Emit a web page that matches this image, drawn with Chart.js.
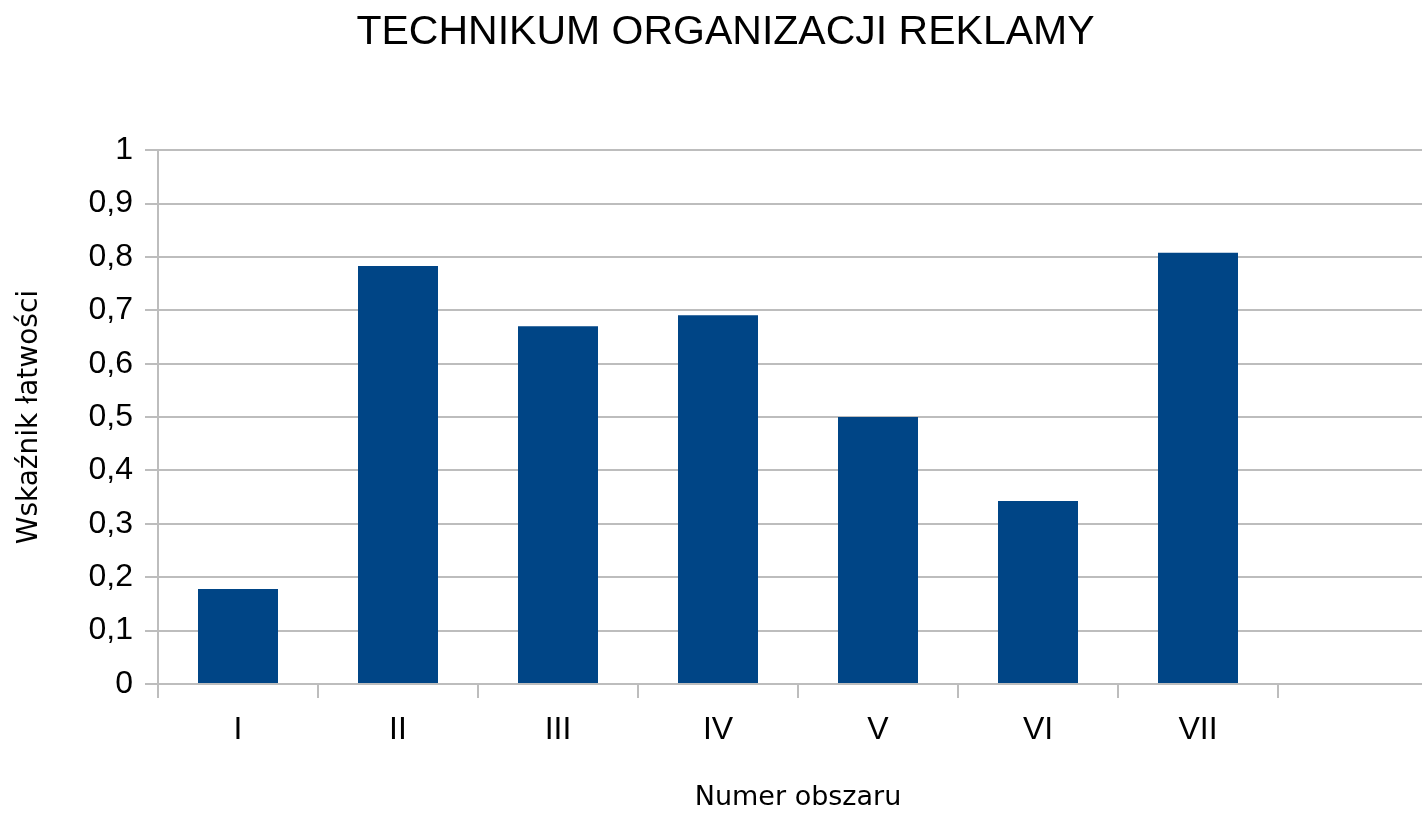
<!DOCTYPE html>
<html>
<head>
<meta charset="utf-8">
<script src="https://cdn.jsdelivr.net/npm/chart.js@4"></script>
<style>
  html, body { margin: 0; padding: 0; background: #fff; overflow: hidden; }
  #wrap { width: 1440px; height: 815px; }
</style>
</head>
<body>
<div id="wrap"><canvas id="c" width="1440" height="815"></canvas></div>
<script>
const categories = ['I', 'II', 'III', 'IV', 'V', 'VI', 'VII', ''];
const values = [0.178, 0.783, 0.670, 0.691, 0.500, 0.343, 0.808, null];
const yTickLabels = ['0', '0,1', '0,2', '0,3', '0,4', '0,5', '0,6', '0,7', '0,8', '0,9', '1'];
const chartTitle = 'TECHNIKUM ORGANIZACJI REKLAMY';
const xTitle = 'Numer obszaru';
const yTitle = 'Wskaźnik łatwości';

const sans = "'Liberation Sans', Arial, sans-serif";
const grid = '#bdbdbd';

new Chart(document.getElementById('c'), {
  type: 'bar',
  data: {
    labels: categories,
    datasets: [{
      data: values,
      backgroundColor: '#004586',
      borderWidth: 0,
      barPercentage: 0.5,
      categoryPercentage: 1.0
    }]
  },
  options: {
    responsive: false,
    animation: false,
    layout: { padding: { left: 13, right: 2, top: 0, bottom: 0 } },
    plugins: {
      legend: { display: false },
      tooltip: { enabled: false },
      title: {
        display: true,
        text: chartTitle,
        color: '#000',
        font: { family: sans, size: 41, weight: 'normal' },
        padding: { top: 8, bottom: 93 }
      }
    },
    scales: {
      x: {
        grid: {
          drawOnChartArea: false,
          drawTicks: true,
          tickLength: 14,
          color: grid,
          lineWidth: 2,
          offset: true
        },
        border: { color: grid, width: 2 },
        ticks: {
          color: '#000',
          font: { family: sans, size: 32 },
          padding: 13,
          maxRotation: 0
        },
        title: {
          display: true,
          text: xTitle,
          color: '#000',
          font: { family: "'DejaVu Sans', sans-serif", size: 27 },
          padding: { top: 0, bottom: 1 }
        },
        afterFit: s => { s.height = 131; }
      },
      y: {
        min: 0,
        max: 1,
        grid: {
          color: grid,
          lineWidth: 2,
          tickLength: 13,
          drawTicks: true
        },
        border: { color: grid, width: 2 },
        ticks: {
          stepSize: 0.1,
          color: '#000',
          font: { family: sans, size: 32 },
          padding: 12,
          callback: (v, i) => yTickLabels[i]
        },
        title: {
          display: true,
          text: yTitle,
          color: '#000',
          font: { family: "'DejaVu Sans', sans-serif", size: 28 },
          padding: { top: 0, bottom: 0 }
        },
        afterFit: s => { s.width = 145; }
      }
    }
  }
});
</script>
</body>
</html>
